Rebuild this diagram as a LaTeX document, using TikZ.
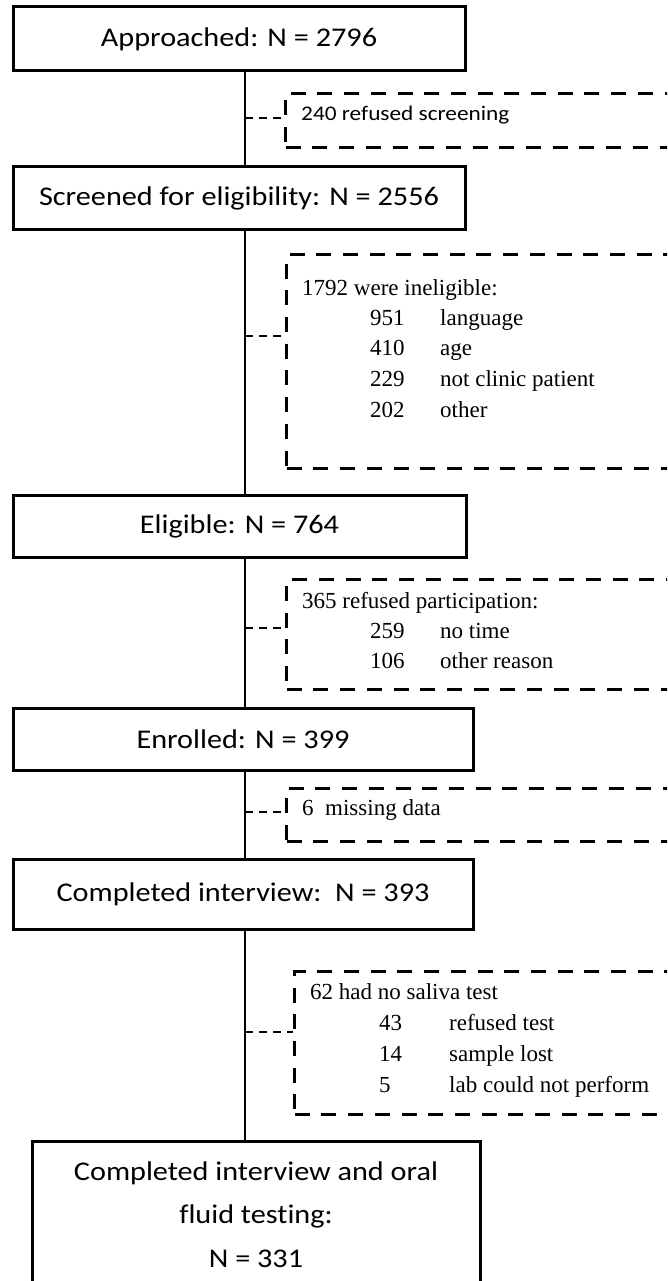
\documentclass[tikz,border=0pt]{standalone}
\usepackage{fontspec}
\setmainfont{Liberation Serif}
\newfontfamily\calfont{Carlito}[FakeStretch=1.12, Ligatures={NoCommon}]
\tikzset{
  mainbox/.style={draw, line width=3pt, inner sep=0pt, font=\calfont\fontsize{27}{32}\selectfont},
  boxtext/.style={anchor=base, inner sep=0pt, font=\calfont\fontsize{27}{32}\selectfont},
  dbox/.style={draw, line width=3.4pt, dash pattern=on 15pt off 11.7pt, inner sep=0pt, anchor=north west},
  conn/.style={line width=2.2pt, dash pattern=on 8pt off 6pt},
  spine/.style={line width=2.8pt},
  smalltxt/.style={anchor=base west, inner sep=0pt, font=\calfont\fontsize{20.8}{24}\selectfont},
  sertxt/.style={anchor=base west, inner sep=0pt, font=\fontsize{23}{28}\selectfont},
}
\begin{document}
\begin{tikzpicture}[x=1pt, y=-1pt]
\useasboundingbox (0,0) rectangle (667,1281);
\clip (0,0) rectangle (667,1281);
\fill[white] (0,0) rectangle (667,1281);

% main boxes
\node[mainbox, minimum width=452pt, minimum height=64pt] (b1) at (239,39) {Approached: N = 2796};
\node[mainbox, minimum width=452pt, minimum height=63pt] (b2) at (239,198.5) {Screened for eligibility: N = 2556};
\node[mainbox, minimum width=453pt, minimum height=62pt] (b3) at (239.5,526) {Eligible: N = 764};
\node[mainbox, minimum width=460pt, minimum height=62pt] (b4) at (243,739) {Enrolled: N = 399};
\node[mainbox, minimum width=460pt, minimum height=70pt] (b5) at (243,894) {Completed interview:\ \ N = 393};
\node[mainbox, minimum width=448pt, minimum height=200pt, anchor=north] (b6) at (256,1140) {};
\node[boxtext] (b6a) at (256,1180) {Completed interview and oral};
\node[boxtext] (b6b) at (256,1223) {fluid testing:};
\node[boxtext] (b6c) at (256,1267) {N = 331};

% spine
\coordinate (sp) at (245,0);
\draw[spine] (b1.south -| sp) -- (b2.north -| sp);
\draw[spine] (b2.south -| sp) -- (b3.north -| sp);
\draw[spine] (b3.south -| sp) -- (b4.north -| sp);
\draw[spine] (b4.south -| sp) -- (b5.north -| sp);
\draw[spine] (b5.south -| sp) -- (b6.north -| sp);

% dashed exclusion boxes
\node[dbox, minimum width=383.5pt, minimum height=54pt] (d1) at (284,92) {};
\node[dbox, minimum width=382.5pt, minimum height=214pt] (d2) at (285,253) {};
\node[dbox, minimum width=382.5pt, minimum height=110pt] (d3) at (285,578) {};
\node[dbox, minimum width=382.5pt, minimum height=53pt] (d4) at (285,787) {};
\node[dbox, minimum width=374.5pt, minimum height=143pt] (d5) at (293,970) {};

% dashed connectors
\coordinate (c1) at (0,118);
\coordinate (c2) at (0,336);
\coordinate (c3) at (0,628);
\coordinate (c4) at (0,812);
\coordinate (c5) at (0,1032);
\draw[conn] (sp |- c1) -- (d1.west |- c1);
\draw[conn] (sp |- c2) -- (d2.west |- c2);
\draw[conn] (sp |- c3) -- (d3.west |- c3);
\draw[conn] (sp |- c4) -- (d4.west |- c4);
\draw[conn] (sp |- c5) -- (d5.west |- c5);

% texts
\node[smalltxt] (t1) at (301,121) {240 refused screening};

\node[sertxt] (t2) at (302,295) {1792 were ineligible:};
\node[sertxt] (t2a) at (370,325) {951};
\node[sertxt] (t2b) at (440,325) {language};
\node[sertxt] (t2c) at (370,355) {410};
\node[sertxt] (t2d) at (440,355) {age};
\node[sertxt] (t2e) at (370,386) {229};
\node[sertxt] (t2f) at (440,386) {not clinic patient};
\node[sertxt] (t2g) at (370,417) {202};
\node[sertxt] (t2h) at (440,417) {other};

\node[sertxt] (t3) at (302,608) {365 refused participation:};
\node[sertxt] (t3a) at (370,638) {259};
\node[sertxt] (t3b) at (440,638) {no time};
\node[sertxt] (t3c) at (370,668) {106};
\node[sertxt] (t3d) at (440,668) {other reason};

\node[sertxt] (t4) at (302,815) {6\ \ missing data};

\node[sertxt] (t5) at (310,999) {62 had no saliva test};
\node[sertxt] (t5a) at (379,1030) {43};
\node[sertxt] (t5b) at (449,1030) {refused test};
\node[sertxt] (t5c) at (379,1061) {14};
\node[sertxt] (t5d) at (449,1061) {sample lost};
\node[sertxt] (t5e) at (379,1092) {5};
\node[sertxt] (t5f) at (449,1092) {lab could not perform};
\end{tikzpicture}
\end{document}
